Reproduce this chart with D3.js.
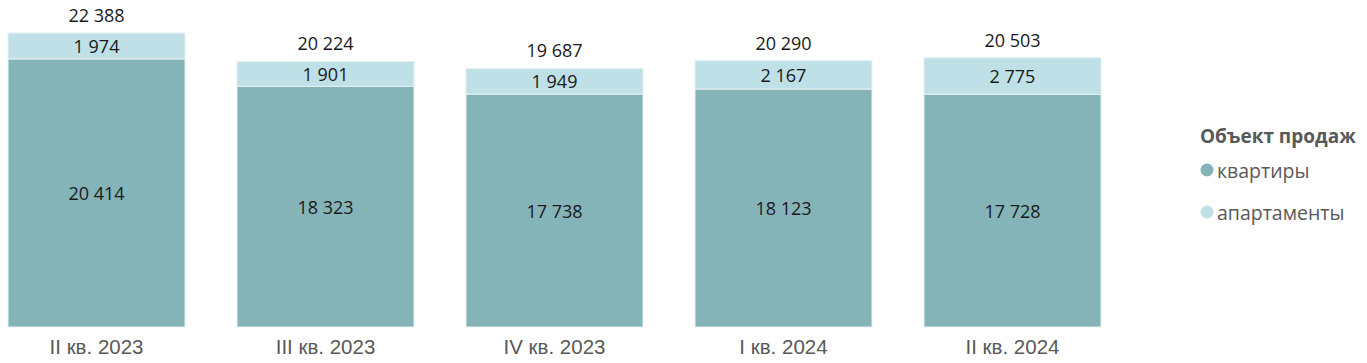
<!DOCTYPE html>
<html>
<head>
  <meta charset="utf-8">
  <title>Объект продаж</title>
  <style>
    html, body { margin: 0; padding: 0; background: #fff; }
    svg { display: block; font-family: "Open Sans", "Noto Sans", sans-serif; }
    .val { fill: #1a1a1a; font-size: 18px; }
    .axis text { fill: #595959; font-size: 20.5px; }
    .legend-title { fill: #595959; font-size: 19px; font-weight: bold; }
    .legend-item { fill: #595959; font-size: 19.5px; }
  </style>
</head>
<body>
  <svg id="chart" width="1367" height="363"></svg>
  <script src="https://d3js.org/d3.v7.min.js"></script>
  <script>
    const quarters = ["II кв. 2023", "III кв. 2023", "IV кв. 2023", "I кв. 2024", "II кв. 2024"];
    const flats = [20414, 18323, 17738, 18123, 17728];
    const apartments = [1974, 1901, 1949, 2167, 2775];
    const seriesNames = ["квартиры", "апартаменты"];
    const colors = ["#84b4b8", "#bfe0e6"];

    const fmt = n => d3.format(",")(n).replace(/,/g, " ");

    const svg = d3.select("#chart");
    const bottom = 327;

    const rows = quarters.map((q, i) => ({ q, flats: flats[i], apartments: apartments[i] }));
    const stack = d3.stack().keys(["flats", "apartments"])(rows);

    const x = d3.scaleBand().domain(quarters).range([8, 1101]).paddingInner(0.227).paddingOuter(0);
    const y = d3.scaleLinear().domain([0, 22388]).range([bottom, 33]);

    const layers = svg.selectAll("g.layer").data(stack).enter().append("g")
      .attr("class", "layer")
      .attr("fill", (d, i) => colors[i]);

    layers.selectAll("rect").data(d => d).enter().append("rect")
      .attr("x", d => x(d.data.q))
      .attr("y", d => y(d[1]))
      .attr("width", x.bandwidth())
      .attr("height", d => y(d[0]) - y(d[1]))
      .attr("stroke", "#e6f0f1")
      .attr("stroke-width", 1);

    // segment labels
    layers.selectAll("text").data(d => d).enter().append("text")
      .attr("class", "val")
      .attr("x", d => x(d.data.q) + x.bandwidth() / 2)
      .attr("y", d => (y(d[0]) + y(d[1])) / 2)
      .attr("text-anchor", "middle")
      .attr("dominant-baseline", "central")
      .text(d => fmt(d[1] - d[0]));

    // totals
    svg.selectAll("text.total").data(rows).enter().append("text")
      .attr("class", "val total")
      .attr("x", d => x(d.q) + x.bandwidth() / 2)
      .attr("y", d => y(d.flats + d.apartments) - 18)
      .attr("text-anchor", "middle")
      .attr("dominant-baseline", "central")
      .text(d => fmt(d.flats + d.apartments));

    // category axis
    const axis = svg.append("g").attr("class", "axis")
      .attr("transform", `translate(0,${bottom})`)
      .call(d3.axisBottom(x).tickSize(0).tickPadding(12));
    axis.select(".domain").remove();
    axis.selectAll("text").attr("dy", "0.71em").attr("font-family", null).attr("font-size", null);

    // legend
    const legend = svg.append("g").attr("transform", "translate(1200,0)");
    legend.append("text").attr("class", "legend-title")
      .attr("x", 0).attr("y", 136).attr("dominant-baseline", "central")
      .text("Объект продаж");
    seriesNames.forEach((name, i) => {
      const cy = 170 + i * 42;
      legend.append("circle").attr("cx", 7).attr("cy", cy).attr("r", 6.5).attr("fill", colors[i]);
      legend.append("text").attr("class", "legend-item")
        .attr("x", 17).attr("y", cy).attr("dominant-baseline", "central")
        .text(name);
    });
  </script>
</body>
</html>
